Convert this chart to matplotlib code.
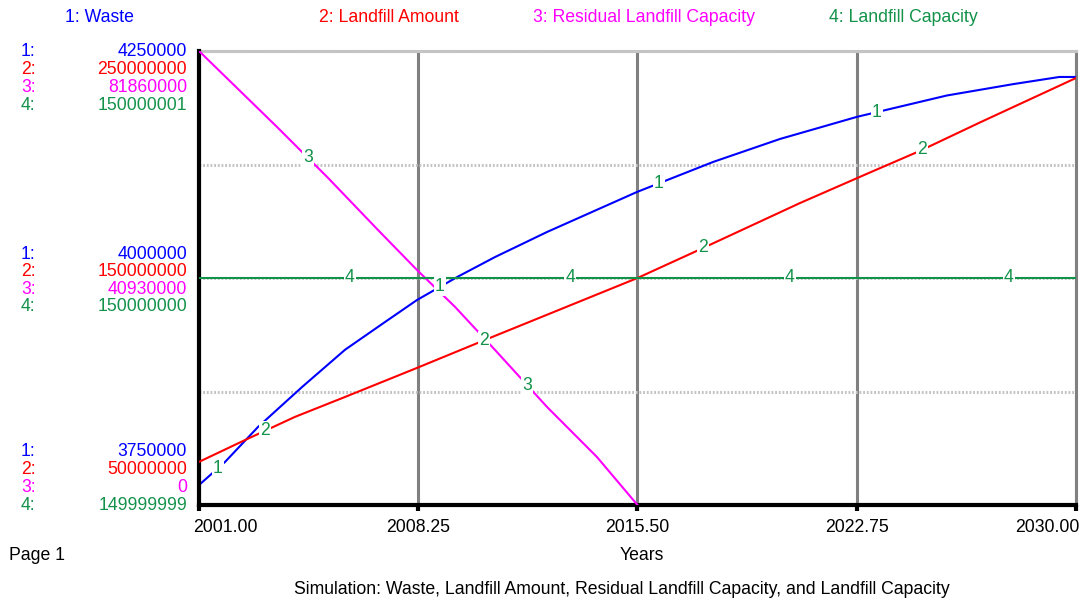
"""Stella-style run chart: waste, landfill amount and capacities 2001-2030."""
import numpy as np
import matplotlib
matplotlib.use("Agg")
import matplotlib.pyplot as plt
from matplotlib.transforms import ScaledTranslation

plt.rcParams["font.family"] = ["Liberation Sans", "DejaVu Sans"]

# values
waste_years = [2001.0, 2001.86, 2002.95, 2004.41, 2005.83, 2007.15, 2008.21, 2009.56,
               2010.79, 2012.51, 2015.48, 2018.0, 2020.21, 2022.76, 2025.73, 2027.92,
               2029.45, 2030.0]
waste = [3772000, 3797400, 3835900, 3880000, 3921000, 3951500, 3975800, 4001500,
         4023100, 4050700, 4094700, 4127800, 4153100, 4177500, 4201000, 4213500,
         4221400, 4221400]

landfill_years = [2001.0, 2002.52, 2004.17, 2005.83, 2008.21, 2010.62, 2015.5, 2017.47,
                  2020.87, 2023.19, 2024.84, 2026.82, 2030.0]
landfill = [69.0e6, 78.6e6, 88.8e6, 97.6e6, 110.4e6, 123.6e6, 150.0e6, 162.0e6,
            183.0e6, 196.5e6, 206.0e6, 218.5e6, 238.1e6]

residual_years = [2001.0, 2003.58, 2005.27, 2006.92, 2008.21, 2009.47, 2010.79, 2012.51,
                  2014.16, 2015.5]
residual = [81.86e6, 68.16e6, 58.96e6, 49.58e6, 42.37e6, 35.70e6, 27.95e6, 17.67e6,
            8.65e6, 0.0]

capacity_years = [2001.0, 2030.0]
capacity = [150000000, 150000000]

x_ticks = [2001.0, 2008.25, 2015.5, 2022.75, 2030.0]
x_labels = ["2001.00", "2008.25", "2015.50", "2022.75", "2030.00"]

# scale for each series: (low, high)
scales = [(3750000, 4250000), (50000000, 250000000), (0, 81860000), (149999999, 150000001)]
scale_text = [
    ["4250000", "250000000", "81860000", "150000001"],
    ["4000000", "150000000", "40930000", "150000000"],
    ["3750000", "50000000", "0", "149999999"],
]
names = ["1: Waste", "2: Landfill Amount", "3: Residual Landfill Capacity",
         "4: Landfill Capacity"]
COLORS = ["#0000ff", "#ff0000", "#ff00ff", "#13924a"]
LABEL_GREEN = "#13924a"

# where the small series numbers sit on each curve
label_years = [
    [2001.63, 2008.97, 2016.21, 2023.42],
    [2003.18, 2010.42, 2017.67, 2024.91],
    [2004.60, 2011.85],
    [2005.99, 2013.27, 2020.54, 2027.78],
]

W, H = 1088, 599
FS = 12.7


def main() -> None:
    fig = plt.figure(figsize=(W / 100, H / 100), dpi=100)
    rect = [199 / W, 1 - 505 / H, (1076 - 199) / W, (505 - 51) / H]

    ax = fig.add_axes(rect)
    axes = [ax]
    for _ in range(3):
        extra = fig.add_axes(rect)
        extra.axis("off")
        axes.append(extra)

    series = [(waste_years, waste), (landfill_years, landfill),
              (residual_years, residual), (capacity_years, capacity)]
    for a, (xs, ys), (lo, hi), c in zip(axes, series, scales, COLORS):
        a.plot(xs, ys, color=c, linewidth=1.5, zorder=3)
        a.set_ylim(lo, hi)
        a.set_xlim(2001, 2030)

    # frame and grid on the base axis
    lo, hi = scales[0]
    ax.set_yticks(np.linspace(lo, hi, 5))
    ax.set_yticks([lo, hi], minor=True)
    ax.tick_params(axis="y", which="major", length=0, labelleft=False)
    ax.tick_params(axis="y", which="minor", length=9, width=3, color="black",
                   labelleft=False)
    ax.grid(axis="y", color="#c4c4c4", linewidth=2.2, linestyle=(0, (0.6, 0.6)))
    ax.set_xticks(x_ticks)
    ax.set_xticklabels(x_labels, fontsize=FS)
    ax.tick_params(axis="x", length=4, width=3, color="black", pad=6)
    ax.grid(axis="x", color="#808080", linewidth=2.2)
    ax.set_axisbelow(True)
    tl = ax.get_xticklabels()
    tl[0].set_horizontalalignment("left")
    tl[0].set_transform(tl[0].get_transform() + ScaledTranslation(-0.06, 0, fig.dpi_scale_trans))
    tl[-1].set_horizontalalignment("right")
    tl[-1].set_transform(tl[-1].get_transform() + ScaledTranslation(0.04, 0, fig.dpi_scale_trans))
    for s in ["left", "bottom"]:
        ax.spines[s].set_linewidth(3)
        ax.spines[s].set_color("black")
        ax.spines[s].set_zorder(5)
    ax.spines["right"].set_color("#808080")
    ax.spines["right"].set_linewidth(2.2)
    ax.spines["top"].set_color("#c4c4c4")
    ax.spines["top"].set_linewidth(2.2)
    ax.spines["top"].set_linestyle((0, (0.6, 0.6)))

    # numbered markers on the curves, drawn on the top axis so they mask all lines
    top = axes[-1]
    for i, (a, (xs, ys)) in enumerate(zip(axes, series)):
        for yr in label_years[i]:
            yv = np.interp(yr, xs, ys)
            top.text(yr, yv, str(i + 1), transform=a.transData, color=LABEL_GREEN,
                     fontsize=FS, ha="center", va="center", zorder=6,
                     bbox=dict(facecolor="white", edgecolor="none", pad=0.8))

    # legend line at the top
    for name, c, x in zip(names, COLORS, [65, 319, 533, 829]):
        fig.text(x / W, 1 - 18 / H, name, color=c, fontsize=FS, va="center")

    # stacked scale labels on the left
    rows = [[51.7, 70, 87.5, 105], [254, 271.5, 289, 307], [452, 469.5, 487, 505]]
    for grp, ys in zip(scale_text, rows):
        for k, (txt, y) in enumerate(zip(grp, ys)):
            fig.text(21 / W, 1 - y / H, f"{k + 1}:", color=COLORS[k], fontsize=FS,
                     va="center")
            fig.text(187 / W, 1 - y / H, txt, color=COLORS[k], fontsize=FS,
                     va="center", ha="right")

    fig.text(9 / W, 1 - 556 / H, "Page 1", fontsize=FS, va="center")
    fig.text(642 / W, 1 - 556 / H, "Years", fontsize=FS, va="center", ha="center")
    fig.text(622 / W, 1 - 590 / H,
             "Simulation: Waste, Landfill Amount, Residual Landfill Capacity, and Landfill Capacity",
             fontsize=FS, va="center", ha="center")

    fig.savefig("out.png", dpi=100)


if __name__ == "__main__":
    main()
